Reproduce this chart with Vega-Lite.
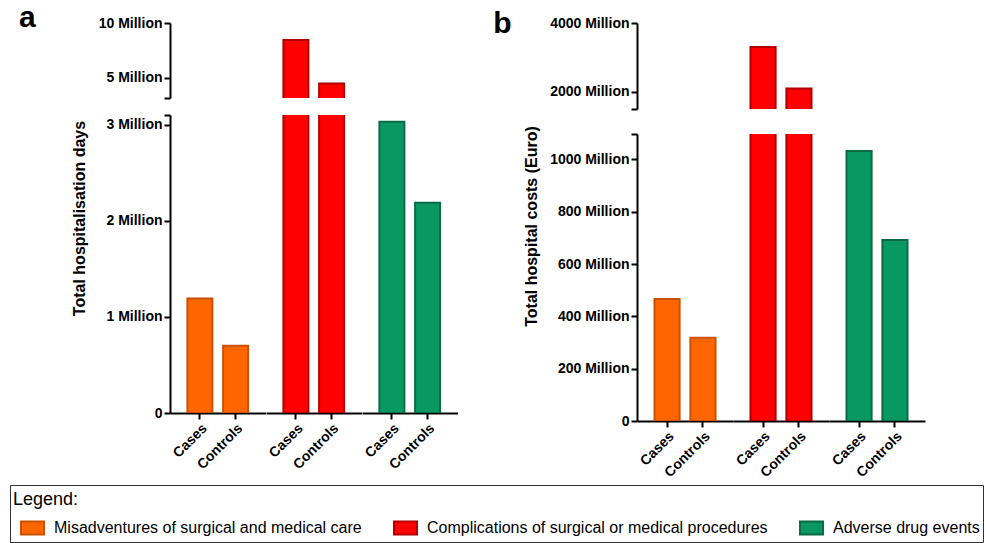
{
  "$schema": "https://vega.github.io/schema/vega-lite/v6.json",
  "padding": {"left": 9, "top": 2, "right": 2, "bottom": 2},
  "background": "white",
  "data": {
    "values": [
      {"panel": "a", "category": "Misadventures of surgical and medical care", "type": "Cases", "value": 1191000},
      {"panel": "a", "category": "Misadventures of surgical and medical care", "type": "Controls", "value": 700000},
      {"panel": "a", "category": "Complications of surgical or medical procedures", "type": "Cases", "value": 8440000},
      {"panel": "a", "category": "Complications of surgical or medical procedures", "type": "Controls", "value": 4450000},
      {"panel": "a", "category": "Adverse drug events", "type": "Cases", "value": 3030000},
      {"panel": "a", "category": "Adverse drug events", "type": "Controls", "value": 2187000},
      {"panel": "b", "category": "Misadventures of surgical and medical care", "type": "Cases", "value": 466000000},
      {"panel": "b", "category": "Misadventures of surgical and medical care", "type": "Controls", "value": 318000000},
      {"panel": "b", "category": "Complications of surgical or medical procedures", "type": "Cases", "value": 3304000000},
      {"panel": "b", "category": "Complications of surgical or medical procedures", "type": "Controls", "value": 2099000000},
      {"panel": "b", "category": "Adverse drug events", "type": "Cases", "value": 1032000000},
      {"panel": "b", "category": "Adverse drug events", "type": "Controls", "value": 692000000}
    ]
  },
  "spacing": 35,
  "hconcat": [
    {
      "title": {"text": "a", "anchor": "start", "frame": "bounds", "fontSize": 30, "fontWeight": "bold", "baseline": "alphabetic", "offset": 0, "dx": -52, "dy": 40.5},
      "spacing": 15,
      "vconcat": [
        {
          "transform": [{"filter": "datum.panel == 'a'"}],
          "facet": {"column": {"field": "category", "type": "nominal", "header": null, "sort": ["Misadventures of surgical and medical care", "Complications of surgical or medical procedures", "Adverse drug events"]}},
          "spacing": 0,
          "spec": {
            "width": 95.5,
            "height": 75,
            "mark": {"type": "bar", "clip": true, "strokeWidth": 2},
            "encoding": {
              "x": {"field": "type", "type": "nominal", "axis": null, "scale": {"paddingInner": 0.3, "paddingOuter": 0.4875}},
              "y": {"field": "value", "type": "quantitative", "scale": {"domain": [3130000, 10000000], "nice": false, "zero": false},
                "axis": {"title": null, "values": [3130000, 5000000, 10000000], "labelExpr": "datum.value < 4000000 ? '' : format(datum.value / 1000000, 'd') + ' Million'"}},
              "y2": {"datum": 0},
              "fill": {"field": "category", "type": "nominal", "title": "Legend:", "scale": {"domain": ["Misadventures of surgical and medical care", "Complications of surgical or medical procedures", "Adverse drug events"], "range": ["#FF6600", "#FF0000", "#0A9862"]}},
              "stroke": {"field": "category", "type": "nominal", "title": "Legend:", "scale": {"domain": ["Misadventures of surgical and medical care", "Complications of surgical or medical procedures", "Adverse drug events"], "range": ["#C85200", "#B00000", "#0A6B45"]}}
            }
          }
        },
        {
          "transform": [{"filter": "datum.panel == 'a'"}],
          "facet": {"column": {"field": "category", "type": "nominal", "header": null, "sort": ["Misadventures of surgical and medical care", "Complications of surgical or medical procedures", "Adverse drug events"]}},
          "spacing": 0,
          "spec": {
            "width": 95.5,
            "height": 298,
            "mark": {"type": "bar", "clip": true, "strokeWidth": 2},
            "encoding": {
              "x": {"field": "type", "type": "nominal", "scale": {"paddingInner": 0.3, "paddingOuter": 0.4875},
                "axis": {"title": null, "labelAngle": -45, "labelAlign": "right", "labelBaseline": "top"}},
              "y": {"field": "value", "type": "quantitative", "scale": {"domain": [0, 3100000], "nice": false},
                "axis": {"title": "Total hospitalisation days", "titleY": 103, "titlePadding": 19, "values": [0, 1000000, 2000000, 3000000, 3100000], "labelExpr": "datum.value == 0 ? '0' : datum.value > 3050000 ? '' : format(datum.value / 1000000, 'd') + ' Million'"}},
              "y2": {"datum": 0},
              "fill": {"field": "category", "type": "nominal", "title": "Legend:", "scale": {"domain": ["Misadventures of surgical and medical care", "Complications of surgical or medical procedures", "Adverse drug events"], "range": ["#FF6600", "#FF0000", "#0A9862"]}},
              "stroke": {"field": "category", "type": "nominal", "title": "Legend:", "scale": {"domain": ["Misadventures of surgical and medical care", "Complications of surgical or medical procedures", "Adverse drug events"], "range": ["#C85200", "#B00000", "#0A6B45"]}}
            }
          }
        }
      ]
    },
    {
      "title": {"text": "b", "anchor": "start", "frame": "bounds", "fontSize": 30, "fontWeight": "bold", "baseline": "alphabetic", "offset": 0, "dx": -30.5, "dy": 46.5},
      "spacing": 15,
      "vconcat": [
        {
          "transform": [{"filter": "datum.panel == 'b'"}],
          "facet": {"column": {"field": "category", "type": "nominal", "header": null, "sort": ["Misadventures of surgical and medical care", "Complications of surgical or medical procedures", "Adverse drug events"]}},
          "spacing": 0,
          "spec": {
            "width": 96,
            "height": 86,
            "mark": {"type": "bar", "clip": true, "strokeWidth": 2},
            "encoding": {
              "x": {"field": "type", "type": "nominal", "axis": null, "scale": {"paddingInner": 0.3, "paddingOuter": 0.4875}},
              "y": {"field": "value", "type": "quantitative", "scale": {"domain": [1507000000, 4000000000], "nice": false, "zero": false},
                "axis": {"title": null, "values": [1507000000, 2000000000, 4000000000], "labelExpr": "datum.value < 1900000000 ? '' : format(datum.value / 1000000, 'd') + ' Million'"}},
              "y2": {"datum": 0},
              "fill": {"field": "category", "type": "nominal", "title": "Legend:", "scale": {"domain": ["Misadventures of surgical and medical care", "Complications of surgical or medical procedures", "Adverse drug events"], "range": ["#FF6600", "#FF0000", "#0A9862"]}},
              "stroke": {"field": "category", "type": "nominal", "title": "Legend:", "scale": {"domain": ["Misadventures of surgical and medical care", "Complications of surgical or medical procedures", "Adverse drug events"], "range": ["#C85200", "#B00000", "#0A6B45"]}}
            }
          }
        },
        {
          "transform": [{"filter": "datum.panel == 'b'"}],
          "facet": {"column": {"field": "category", "type": "nominal", "header": null, "sort": ["Misadventures of surgical and medical care", "Complications of surgical or medical procedures", "Adverse drug events"]}},
          "spacing": 0,
          "spec": {
            "width": 96,
            "height": 287,
            "mark": {"type": "bar", "clip": true, "strokeWidth": 2},
            "encoding": {
              "x": {"field": "type", "type": "nominal", "scale": {"paddingInner": 0.3, "paddingOuter": 0.4875},
                "axis": {"title": null, "labelAngle": -45, "labelAlign": "right", "labelBaseline": "top"}},
              "y": {"field": "value", "type": "quantitative", "scale": {"domain": [0, 1097000000], "nice": false},
                "axis": {"title": "Total hospital costs (Euro)", "titleY": 92, "titlePadding": 10, "values": [0, 200000000, 400000000, 600000000, 800000000, 1000000000, 1097000000], "labelExpr": "datum.value == 0 ? '0' : datum.value > 1050000000 ? '' : format(datum.value / 1000000, 'd') + ' Million'"}},
              "y2": {"datum": 0},
              "fill": {"field": "category", "type": "nominal", "title": "Legend:", "scale": {"domain": ["Misadventures of surgical and medical care", "Complications of surgical or medical procedures", "Adverse drug events"], "range": ["#FF6600", "#FF0000", "#0A9862"]}},
              "stroke": {"field": "category", "type": "nominal", "title": "Legend:", "scale": {"domain": ["Misadventures of surgical and medical care", "Complications of surgical or medical procedures", "Adverse drug events"], "range": ["#C85200", "#B00000", "#0A6B45"]}}
            }
          }
        }
      ]
    }
  ],
  "config": {
    "font": "Liberation Sans",
    "view": {"stroke": null},
    "title": {"color": "black"},
    "axis": {
      "grid": false,
      "domainColor": "black",
      "domainWidth": 2,
      "tickColor": "black",
      "tickWidth": 2,
      "tickSize": 6,
      "labelColor": "black",
      "labelFont": "Liberation Sans",
      "labelFontSize": 14,
      "labelFontWeight": "bold",
      "labelPadding": 2,
      "titleColor": "black",
      "titleFont": "Liberation Sans",
      "titleFontSize": 16,
      "titleFontWeight": "bold"
    },
    "legend": {
      "orient": "none",
      "legendX": -160,
      "legendY": 462,
      "direction": "horizontal",
      "padding": 3,
      "strokeColor": "#333333",
      "titleFont": "Liberation Sans",
      "titleFontSize": 18,
      "titleFontWeight": "normal",
      "titleColor": "black",
      "titleBaseline": "line-top",
      "titleLineHeight": 24,
      "titlePadding": 9.5,
      "labelFont": "Liberation Sans",
      "labelFontSize": 16,
      "labelColor": "black",
      "labelLimit": 500,
      "labelOffset": 16,
      "columnPadding": 24,
      "symbolType": "M-0.39,-0.565H1.61V0.565H-0.39Z",
      "symbolSize": 529,
      "symbolStrokeWidth": 2,
      "symbolOpacity": 1
    }
  }
}
